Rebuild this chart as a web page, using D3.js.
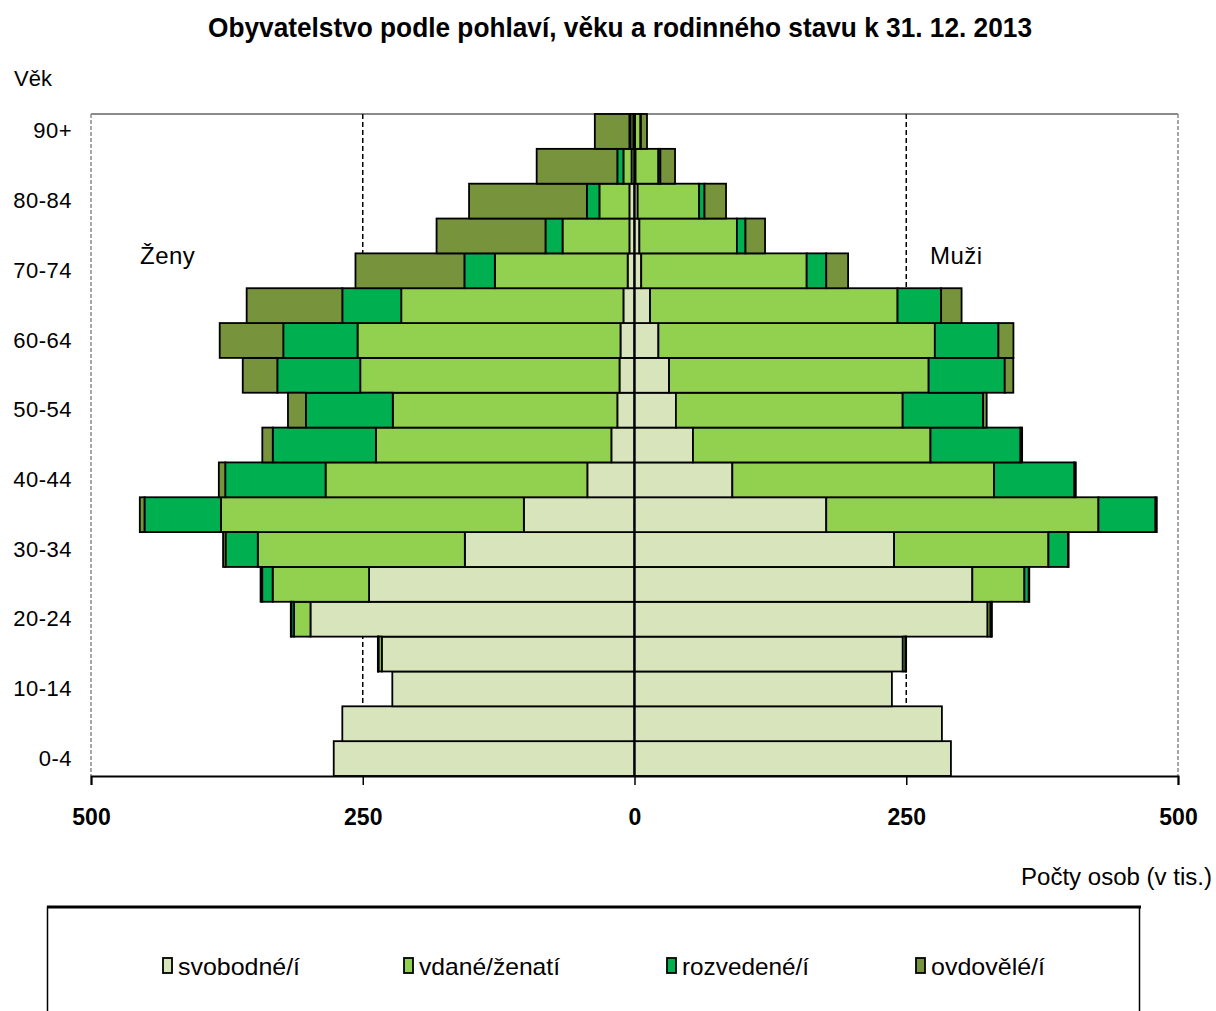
<!DOCTYPE html>
<html><head><meta charset="utf-8">
<script src="https://cdn.jsdelivr.net/npm/d3@7"></script>
<style>
body{margin:0;background:#fff}
svg{display:block}
text{font-family:"Liberation Sans Narrow","Arial Narrow","Liberation Sans",Arial,sans-serif;fill:#000}
</style>
</head><body>
<svg id="c" width="1216" height="1011"></svg>
<script>
// ---- data (thousands of persons) ----
const ages = ["0-4","5-9","10-14","15-19","20-24","25-29","30-34","35-39","40-44","45-49","50-54","55-59","60-64","65-69","70-74","75-79","80-84","85-89","90+"];
const seriesKeys = ["svobodne","vdane","rozvedene","ovdovele"];
const seriesLabels = ["svobodné/í","vdané/ženatí","rozvedené/í","ovdovělé/í"];
const seriesColors = ["#D8E4BC","#92D050","#00B050","#77933C"];

// Ženy (women)
const womenSingle   = [276.7,268.8,222.8,232.5,298.1,244.2,156.1,101.8,43.4,21.3,15.8,13.8,12.9,10.2,6.3,4.7,4.7,2.7,1.2];
const womenMarried  = [0,0,0,3.0,15.1,88.7,190.5,278.7,240.8,216.6,206.6,238.5,241.9,204.4,122.2,61.5,27.6,7.5,2.5];
const womenDivorced = [0,0,0,0.5,2.5,9.6,29.6,70.3,92.3,94.9,79.9,76.3,68.3,54.2,28.0,15.7,11.5,5.6,1.0];
const womenWidowed  = [0,0,0,0.1,0.5,1.5,2.3,4.3,5.9,9.6,16.5,31.8,58.5,88.0,100.2,100.2,108.4,74.2,31.8];

// Muži (men)
const menSingle   = [291.1,282.8,236.8,246.8,324.8,310.8,238.8,176.4,90.0,53.8,38.1,31.8,22.0,14.3,6.2,4.5,2.9,1.0,0.5];
const menMarried  = [0,0,0,2.5,2.7,47.9,142.0,250.4,240.8,218.5,208.6,238.8,254.3,227.7,152.2,89.7,56.6,21.0,5.0];
const menDivorced = [0,0,0,0.4,1.0,4.0,18.0,52.5,73.9,82.8,74.0,70.0,58.5,40.1,18.0,7.9,4.9,1.8,0.4];
const menWidowed  = [0,0,0,0.2,0.2,0.5,0.6,1.2,1.3,1.5,3.3,7.9,13.8,18.8,20.1,18.0,19.8,13.5,5.6];

const xTickValues = [-500,-250,0,250,500];
const yTickLabels = ["0-4","10-14","20-24","30-34","40-44","50-54","60-64","70-74","80-84","90+"];

// ---- build tables ----
function table(a,b,c,d){ return ages.map((age,i)=>({age, svobodne:a[i], vdane:b[i], rozvedene:c[i], ovdovele:d[i]})); }
const women = table(womenSingle,womenMarried,womenDivorced,womenWidowed);
const men = table(menSingle,menMarried,menDivorced,menWidowed);

const svg = d3.select("#c");
const x = d3.scaleLinear().domain([-500,500]).range([91,1178]);
const y = d3.scaleBand().domain(ages.slice().reverse()).range([114,776]).padding(0);
const color = d3.scaleOrdinal().domain(seriesKeys).range(seriesColors);

// title
svg.append("text").attr("x",620).attr("y",37).attr("text-anchor","middle")
  .attr("font-size",27).attr("font-weight","bold")
  .attr("textLength",824).attr("lengthAdjust","spacingAndGlyphs")
  .text("Obyvatelstvo podle pohlaví, věku a rodinného stavu k 31. 12. 2013");

// plot frame
svg.append("line").attr("x1",x(-500)).attr("x2",x(500)).attr("y1",114).attr("y2",114)
  .attr("stroke","#8a8a8a").attr("stroke-width",2);
[-500,500].forEach(v=>{
  svg.append("line").attr("x1",x(v)).attr("x2",x(v)).attr("y1",114).attr("y2",776)
    .attr("stroke","#8a8a8a").attr("stroke-width",1.5).attr("stroke-dasharray","4,2");
});
[-250,250].forEach(v=>{
  svg.append("line").attr("x1",x(v)).attr("x2",x(v)).attr("y1",114).attr("y2",776)
    .attr("stroke","#000").attr("stroke-width",1.5).attr("stroke-dasharray","5,3");
});

// bars
const stack = d3.stack().keys(seriesKeys);
const ws = stack(women), ms = stack(men);
function drawSide(series, sign, cls){
  svg.append("g").attr("class",cls).selectAll("g").data(series).join("g")
    .attr("fill",d=>color(d.key))
    .selectAll("rect").data(d=>d).join("rect")
    .attr("x",d=> sign<0 ? x(-d[1]) : x(d[0]))
    .attr("width",d=> Math.abs(x(sign*d[1]) - x(sign*d[0])))
    .attr("y",d=>y(d.data.age))
    .attr("height",y.bandwidth())
    .attr("stroke","#000").attr("stroke-width",1.8);
}
drawSide(ws,-1,"women");
drawSide(ms,1,"men");

// center line
svg.append("line").attr("x1",x(0)).attr("x2",x(0)).attr("y1",114).attr("y2",776)
  .attr("stroke","#000").attr("stroke-width",2);

// x axis
const xAxis = svg.append("g").attr("transform","translate(0,776)")
  .call(d3.axisBottom(x).tickValues(xTickValues).tickFormat(d=>Math.abs(d)).tickSize(9).tickPadding(24));
xAxis.select(".domain").attr("stroke","#000").attr("stroke-width",2);
xAxis.selectAll(".tick line").attr("stroke","#000").attr("stroke-width",1.5);
xAxis.selectAll("text").attr("font-size",23).attr("font-weight","bold").attr("font-family",null);

// y axis labels
const yAxis = svg.append("g").attr("transform","translate(72,0)")
  .call(d3.axisLeft(y).tickValues(yTickLabels).tickSize(0).tickPadding(0));
yAxis.select(".domain").remove();
yAxis.selectAll("text").attr("font-size",22).attr("font-family",null).style("letter-spacing","0.5px");

svg.append("text").attr("x",14).attr("y",86).attr("font-size",22).text("Věk");
svg.append("text").attr("x",140).attr("y",264).attr("font-size",24).style("letter-spacing","0.5px").text("Ženy");
svg.append("text").attr("x",930).attr("y",264).attr("font-size",24).style("letter-spacing","0.5px").text("Muži");
svg.append("text").attr("x",1212).attr("y",885).attr("text-anchor","end").attr("font-size",23)
  .attr("textLength",191).attr("lengthAdjust","spacingAndGlyphs").text("Počty osob (v tis.)");

// legend
const lg = svg.append("g");
lg.append("rect").attr("x",47.5).attr("y",907).attr("width",1092).attr("height",120)
  .attr("fill","#fff").attr("stroke","#000").attr("stroke-width",1.5);
lg.append("line").attr("x1",47).attr("x2",1141).attr("y1",907).attr("y2",907).attr("stroke","#000").attr("stroke-width",3);
const legendX = [162,403,666,915];
const legendW = [122,141,127,114];
seriesKeys.forEach((k,i)=>{
  lg.append("rect").attr("x",legendX[i]+1).attr("y",958).attr("width",9).attr("height",15)
    .attr("fill",seriesColors[i]).attr("stroke","#000").attr("stroke-width",1.8);
  lg.append("text").attr("x",legendX[i]+16).attr("y",975).attr("font-size",24)
    .attr("textLength",legendW[i]).attr("lengthAdjust","spacingAndGlyphs").text(seriesLabels[i]);
});
</script>
</body></html>
